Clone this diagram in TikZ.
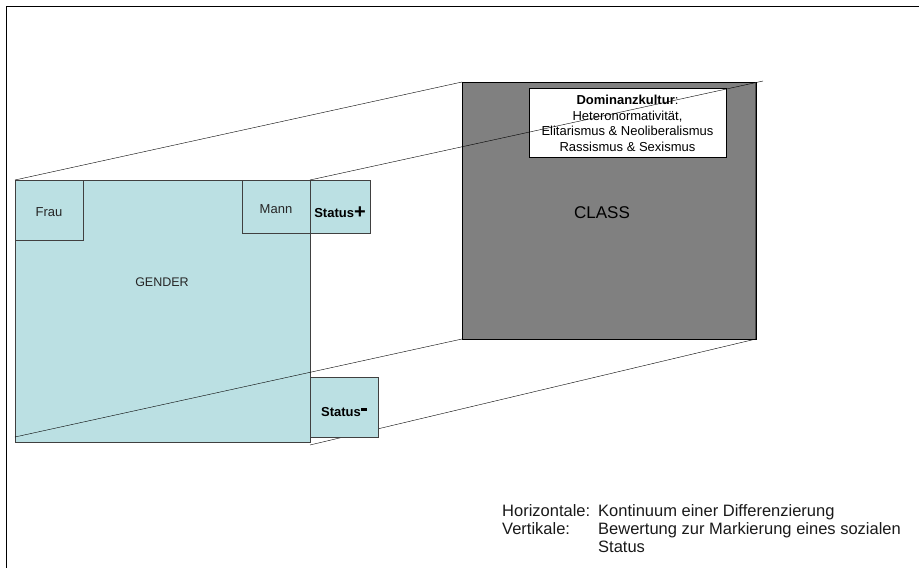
\documentclass[tikz,border=0pt]{standalone}
\usepackage{fontspec}
\setmainfont{Liberation Sans}
\definecolor{genderblue}{HTML}{BBE0E3}
\definecolor{classgray}{HTML}{808080}
\tikzset{
  field/.style={draw=black!75, fill=genderblue, inner sep=0pt, outer sep=0pt, anchor=north west, text depth=0pt},
  label/.style={text=black!85, font=\fontsize{13}{15}\selectfont},
  status/.style={font=\fontsize{13}{15}\selectfont\bfseries}
}

\begin{document}
\begin{tikzpicture}[x=1pt,y=-1pt]
    \useasboundingbox (0,0) rectangle (919,568);
    \draw (6,568) -- (6,6) -- (919,6);
    % gender block with its corner boxes
    \node[field, minimum width=295pt, minimum height=262pt] (gender) at (15,180) {};
    \node[label, font=\fontsize{12.5}{14}\selectfont] (gendertext) at (162,282) {GENDER};
    \node[field, minimum width=68pt, minimum height=60pt, label, text height=12pt] (frau) at (15,180) {Frau};
    \node[field, minimum width=68pt, minimum height=53pt, label, text height=13pt] (mann) at (242,180) {Mann};
    \node[field, minimum width=60pt, minimum height=53pt, status, text height=21pt] (plus) at (310,180)
        {Status\raisebox{-1.5pt}{\fontsize{20}{20}\selectfont+}};
    % class block
    \node[draw, fill=classgray, inner sep=0pt, outer sep=0pt, anchor=north west,
          minimum width=294pt, minimum height=257pt] (class) at (462,82) {};
    \draw[black!70, line width=1.5pt] ([xshift=-0.75pt]class.north east) -- ([xshift=-0.75pt]class.south east);
    \node[font=\fontsize{17}{20}\selectfont] (classtext) at (602,213) {CLASS};
    \node[draw, fill=white, inner sep=0pt, outer sep=0pt, anchor=north west,
          minimum width=197pt, minimum height=69pt] (dom) at (529,88) {};
    \node[align=center, font=\fontsize{13}{15.5}\selectfont] (domtext) at ([yshift=-1pt]dom.center)
        {\textbf{Dominanzkultur}:\\Heteronormativität,\\Elitarismus \& Neoliberalismus\\Rassismus \& Sexismus};
    % projection lines
    \coordinate (topend) at (763,81);
    \coordinate (lowstart) at (15,437);
    \coordinate (lowend) at (310,445);
    \draw (gender.north west) -- (class.north west);
    \draw (plus.north west) -- (topend);
    \draw (lowstart) -- (class.south west);
    \draw (lowend) -- (class.south east);
    \node[field, minimum width=68pt, minimum height=60pt, status, text height=19pt] (minus) at (310,377)
        {Status\raisebox{6pt}{\rule{6pt}{3pt}}};
    % legend
    \node[anchor=north west, inner sep=0pt, text=black!90, font=\fontsize{16.5}{18}\selectfont] (legend) at (502,504)
        {\begin{tabular}{@{}p{96pt}@{}l@{}}
         Horizontale: & Kontinuum einer Differenzierung\\
         Vertikale: & Bewertung zur Markierung eines sozialen\\
          & Status
         \end{tabular}};
\end{tikzpicture}
\end{document}
